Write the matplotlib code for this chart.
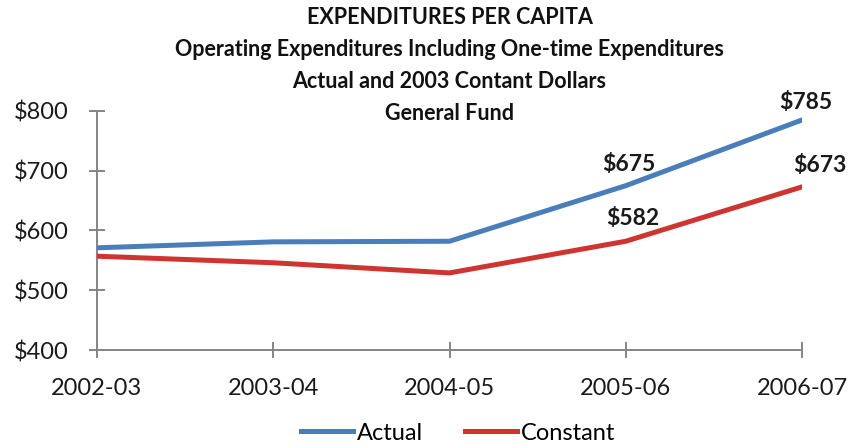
import matplotlib
matplotlib.use("Agg")
import matplotlib.pyplot as plt

plt.rcParams['font.family'] = ['Lato', 'DejaVu Sans']

years = ["2002-03", "2003-04", "2004-05", "2005-06", "2006-07"]
actual = [571, 581, 582, 675, 785]
constant = [557, 546, 529, 582, 673]
y_ticks = [400, 500, 600, 700, 800]
y_tick_labels = ["$400", "$500", "$600", "$700", "$800"]
title_lines = [
    "EXPENDITURES PER CAPITA",
    "Operating Expenditures Including One-time Expenditures",
    "Actual and 2003 Contant Dollars",
    "General Fund",
]

blue = "#4A7EBB"
red = "#CE3530"
axis_gray = "#858585"

fig = plt.figure(figsize=(8.48, 4.48), dpi=100)
ax = fig.add_axes([97 / 848, 1 - 350 / 448, (802 - 97) / 848, (350 - 111) / 448])

x = list(range(len(years)))
l1, = ax.plot(x, actual, color=blue, lw=3.6, solid_joinstyle='round', label="Actual", zorder=3)
l2, = ax.plot(x, constant, color=red, lw=3.6, solid_joinstyle='round', label="Constant", zorder=3)

ax.set_xlim(0, len(years) - 1)
ax.set_ylim(400, 800)
ax.set_xticks(x)
ax.set_xticklabels(years)
ax.set_yticks(y_ticks)
ax.set_yticklabels(y_tick_labels)

for side in ("top", "right"):
    ax.spines[side].set_visible(False)
for side in ("left", "bottom"):
    ax.spines[side].set_color(axis_gray)
    ax.spines[side].set_linewidth(1.4)
ax.spines["left"].set_zorder(1)
ax.spines["bottom"].set_zorder(1)
ax.tick_params(axis="both", direction="inout", length=11, width=1.4, color=axis_gray,
               labelsize=17, labelcolor="#1a1a1a")
ax.tick_params(axis="x", pad=15)
ax.tick_params(axis="y", pad=15)

# value labels on the last two points of each series
label_specs = [
    (actual, 3, (2, 8)),
    (actual, 4, (3, 5)),
    (constant, 3, (5, 9)),
    (constant, 4, (13, 8)),
]
for series, i, off in label_specs:
    ax.annotate(f"${series[i]}", (x[i], series[i]), xytext=off, textcoords="offset points",
                ha="center", va="bottom", fontsize=16.5, fontweight="bold",
                color="#1a1a1a", annotation_clip=False)

cx = (97 + 802) / 2 / 848
for i, line in enumerate(title_lines):
    fig.text(cx, 1 - (18 + 32 * i) / 448, line, ha="center", va="center",
             fontsize=15.5, fontweight="bold", color="#111111")

fig.legend(handles=[l1, l2], loc="center", bbox_to_anchor=(458 / 848, 1 - 433 / 448),
           ncol=2, frameon=False, fontsize=17, handlelength=2.2, handletextpad=0.15,
           columnspacing=1.8)

fig.savefig("out.png", dpi=100)
